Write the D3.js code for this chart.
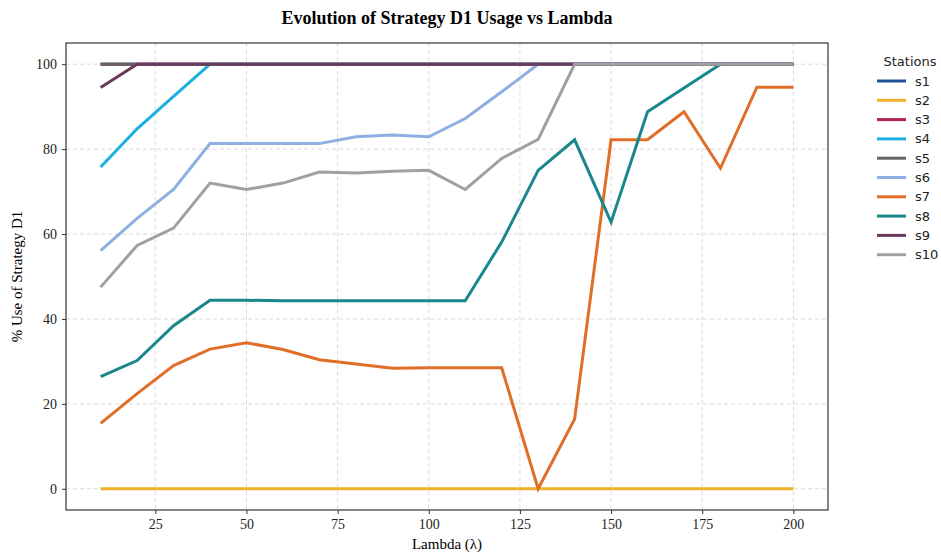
<!DOCTYPE html>
<html>
<head>
<meta charset="utf-8">
<script src="https://cdn.jsdelivr.net/npm/d3@7"></script>
<style>
  body { margin: 0; background: #fff; }
  svg { display: block; }
</style>
</head>
<body>
<div id="chart"></div>
<script>
// lambda values on the x axis
const lambdas = [10, 20, 30, 40, 50, 60, 70, 80, 90, 100, 110, 120, 130, 140, 150, 160, 170, 180, 190, 200];

// % use of strategy D1 per station
const s1 = [100, 100, 100, 100, 100, 100, 100, 100, 100, 100, 100, 100, 100, 100, 100, 100, 100, 100, 100, 100];
const s2 = [0, 0, 0, 0, 0, 0, 0, 0, 0, 0, 0, 0, 0, 0, 0, 0, 0, 0, 0, 0];
const s3 = [100, 100, 100, 100, 100, 100, 100, 100, 100, 100, 100, 100, 100, 100, 100, 100, 100, 100, 100, 100];
const s4 = [75.8, 84.8, 92.4, 100, 100, 100, 100, 100, 100, 100, 100, 100, 100, 100, 100, 100, 100, 100, 100, 100];
const s5 = [100, 100, 100, 100, 100, 100, 100, 100, 100, 100, 100, 100, 100, 100, 100, 100, 100, 100, 100, 100];
const s6 = [56.1, 63.7, 70.5, 81.3, 81.3, 81.3, 81.3, 82.9, 83.3, 82.9, 87.2, 93.5, 100, 100, 100, 100, 100, 100, 100, 100];
const s7 = [15.4, 22.4, 29.0, 32.9, 34.4, 32.8, 30.4, 29.4, 28.4, 28.5, 28.5, 28.5, 0, 16.4, 82.2, 82.2, 88.8, 75.5, 94.6, 94.6];
const s8 = [26.4, 30.2, 38.4, 44.4, 44.4, 44.3, 44.3, 44.3, 44.3, 44.3, 44.3, 58.1, 75.0, 82.2, 62.8, 88.8, 94.4, 100, 100, 100];
const s9 = [94.5, 100, 100, 100, 100, 100, 100, 100, 100, 100, 100, 100, 100, 100, 100, 100, 100, 100, 100, 100];
const s10 = [47.5, 57.3, 61.4, 72.0, 70.5, 72.0, 74.6, 74.4, 74.8, 75.0, 70.5, 77.8, 82.3, 100, 100, 100, 100, 100, 100, 100];

const stations = ["s1", "s2", "s3", "s4", "s5", "s6", "s7", "s8", "s9", "s10"];
const colors = ["#1f4f99", "#efb02a", "#b0244f", "#1aafe0", "#666666", "#8cb0e2", "#e06e28", "#1a878c", "#6b3a5c", "#a0a0a0"];
const xTicks = [25, 50, 75, 100, 125, 150, 175, 200];
const yTicks = [0, 20, 40, 60, 80, 100];

const series = [s1, s2, s3, s4, s5, s6, s7, s8, s9, s10];

const W = 941, H = 556;
const margin = {top: 43, left: 66, right: 113, bottom: 46};
const width = W - margin.left - margin.right,
  height = H - margin.top - margin.bottom;

const svg = d3.select("#chart").append("svg")
  .attr("width", W)
  .attr("height", H);

const x = d3.scaleLinear().domain([0.5, 209.5]).range([0, width]);
const y = d3.scaleLinear().domain([-5, 105]).range([height, 0]);

const g = svg.append("g")
  .attr("transform", "translate(" + margin.left + "," + margin.top + ")");

// grid
g.append("g").selectAll("line").data(xTicks).enter().append("line")
  .attr("x1", d => x(d)).attr("x2", d => x(d))
  .attr("y1", 0).attr("y2", height)
  .attr("stroke", "#d0d0d0").attr("stroke-width", 0.8).attr("stroke-dasharray", "4,3");
g.append("g").selectAll("line").data(yTicks).enter().append("line")
  .attr("y1", d => y(d)).attr("y2", d => y(d))
  .attr("x1", 0).attr("x2", width)
  .attr("stroke", "#d0d0d0").attr("stroke-width", 0.8).attr("stroke-dasharray", "4,3");

// lines
const line = d3.line()
  .x((d, i) => x(lambdas[i]))
  .y(d => y(d));

g.append("g").selectAll("path").data(series).enter().append("path")
  .attr("d", d => line(d))
  .attr("fill", "none")
  .attr("stroke", (d, i) => colors[i])
  .attr("stroke-width", 3)
  .attr("stroke-linejoin", "miter");

// axes
const xAxis = g.append("g")
  .attr("transform", "translate(0," + height + ")")
  .call(d3.axisBottom(x).tickValues(xTicks).tickSize(4).tickPadding(5));
const yAxis = g.append("g")
  .call(d3.axisLeft(y).tickValues(yTicks).tickSize(4).tickPadding(5));

[xAxis, yAxis].forEach(a => {
  a.select(".domain").remove();
  a.selectAll("line").attr("stroke", "#333");
  a.selectAll("text")
    .attr("fill", "#222")
    .style("font-family", "'Liberation Serif', 'Times New Roman', serif")
    .style("font-size", "14px");
});

// frame
g.append("rect")
  .attr("width", width).attr("height", height)
  .attr("fill", "none").attr("stroke", "#333").attr("stroke-width", 1.2);

// title and axis labels
svg.append("text")
  .attr("x", margin.left + width / 2).attr("y", 24)
  .attr("text-anchor", "middle")
  .style("font-family", "'Liberation Serif', 'Times New Roman', serif")
  .style("font-weight", "bold")
  .style("font-size", "18px")
  .text("Evolution of Strategy D1 Usage vs Lambda");

svg.append("text")
  .attr("x", margin.left + width / 2).attr("y", 549)
  .attr("text-anchor", "middle")
  .style("font-family", "'Liberation Serif', 'Times New Roman', serif")
  .style("font-size", "15px")
  .text("Lambda (\u03bb)");

svg.append("text")
  .attr("transform", "translate(22," + (margin.top + height / 2) + ") rotate(-90)")
  .attr("text-anchor", "middle")
  .style("font-family", "'Liberation Serif', 'Times New Roman', serif")
  .style("font-size", "15px")
  .text("% Use of Strategy D1");

// legend
const lg = svg.append("g").attr("transform", "translate(877,66)");
lg.append("text")
  .attr("x", 33).attr("y", 0)
  .attr("text-anchor", "middle")
  .style("font-family", "'DejaVu Sans', sans-serif")
  .style("font-size", "13px")
  .attr("fill", "#222")
  .text("Stations");

const item = lg.selectAll("g.item").data(stations).enter().append("g")
  .attr("class", "item")
  .attr("transform", (d, i) => "translate(0," + (15 + i * 19.3) + ")");
item.append("line")
  .attr("x1", 0).attr("x2", 29)
  .attr("stroke", (d, i) => colors[i])
  .attr("stroke-width", 3);
item.append("text")
  .attr("x", 38).attr("y", 0)
  .attr("dy", ".35em")
  .style("font-family", "'DejaVu Sans', sans-serif")
  .style("font-size", "13px")
  .attr("fill", "#222")
  .text(d => d);
</script>
</body>
</html>
